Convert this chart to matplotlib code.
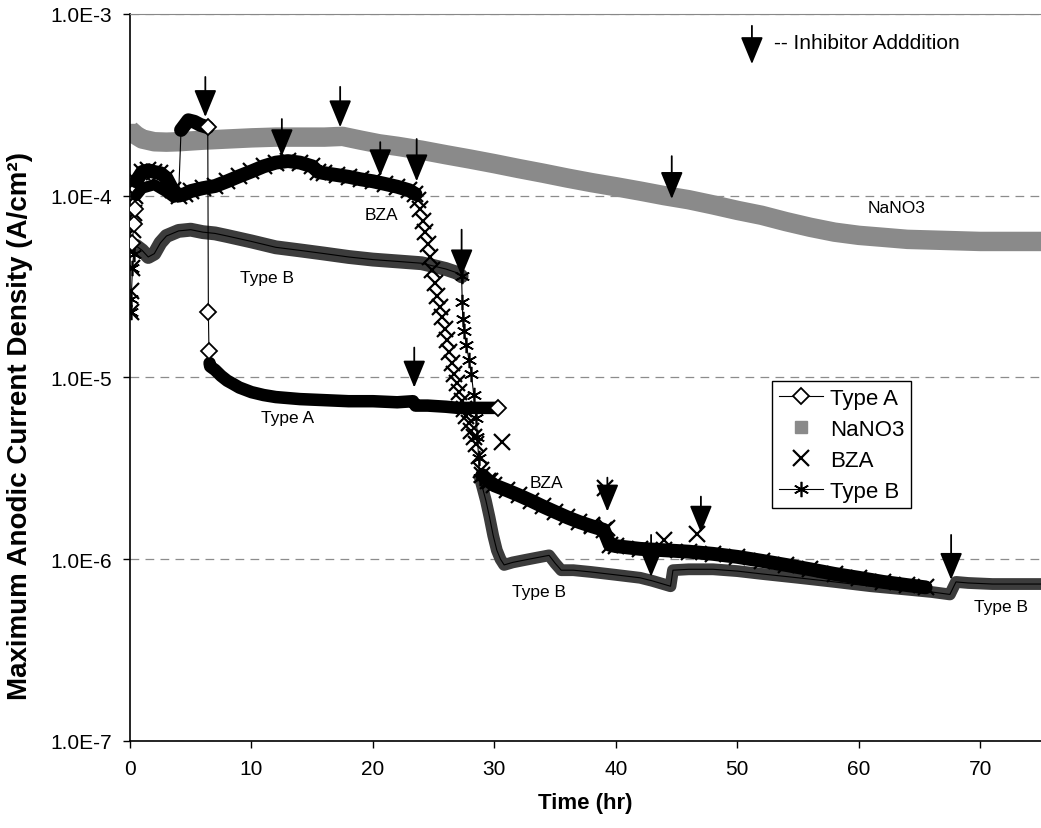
import numpy as np
import matplotlib.pyplot as plt
from matplotlib.ticker import FixedLocator, FuncFormatter, NullLocator

plt.rcParams['font.family'] = ['Liberation Sans', 'DejaVu Sans']

# NaNO3 (grey band, markers only)
nano3_t = [0, 0.5, 1, 2, 3, 4, 5, 6, 8, 10, 12, 14, 16, 17.5, 19, 20.5, 22, 24, 26, 28,
           30, 32, 34, 36, 38, 40, 42, 44, 46, 48, 50, 52, 54, 56, 58, 60, 62, 64, 66,
           68, 70, 72, 75]
nano3_i = [2.3e-4, 2.15e-4, 2.05e-4, 1.98e-4, 1.97e-4, 1.98e-4, 2.0e-4, 2.02e-4, 2.05e-4,
           2.08e-4, 2.1e-4, 2.1e-4, 2.1e-4, 2.12e-4, 2.02e-4, 1.93e-4, 1.87e-4, 1.78e-4,
           1.68e-4, 1.59e-4, 1.5e-4, 1.41e-4, 1.33e-4, 1.25e-4, 1.18e-4, 1.12e-4, 1.06e-4,
           1.0e-4, 9.5e-5, 8.9e-5, 8.3e-5, 7.8e-5, 7.2e-5, 6.7e-5, 6.3e-5, 6.05e-5, 5.9e-5,
           5.75e-5, 5.7e-5, 5.65e-5, 5.6e-5, 5.6e-5, 5.6e-5]

# Type A (diamonds + line)
typea_t = [0.2, 0.3, 0.4, 0.5, 1.0, 2.0, 3.0, 3.6, 4.0, 4.2, 4.8, 5.3, 5.8, 6.4, 6.45,
           6.5, 6.55, 6.6, 7.0, 7.5, 8.0, 8.5, 9.0, 10, 11, 12, 14, 16, 18, 20, 22, 23.3,
           23.5, 24.5, 26, 27, 28, 29, 30.3]
typea_i = [5.5e-5, 7e-5, 8.5e-5, 1.0e-4, 1.1e-4, 1.15e-4, 1.05e-4, 9.8e-5, 1.0e-4, 2.3e-4,
           2.6e-4, 2.55e-4, 2.45e-4, 2.38e-4, 2.3e-5, 1.4e-5, 1.2e-5, 1.15e-5, 1.1e-5,
           1.02e-5, 9.6e-6, 9.2e-6, 8.8e-6, 8.3e-6, 8.0e-6, 7.8e-6, 7.6e-6, 7.5e-6, 7.4e-6,
           7.4e-6, 7.3e-6, 7.4e-6, 7.0e-6, 7.0e-6, 6.9e-6, 6.8e-6, 6.8e-6, 6.8e-6, 6.8e-6]

# BZA (x markers only)
bza_t = [0.05, 0.1, 0.15, 0.2, 0.25, 0.3, 0.4, 0.5, 1.0, 1.5, 2.0, 2.5, 3.0, 3.5, 4.0,
         4.5, 5.0, 6.0, 7.0, 8.0, 9.0, 10.0, 11.0, 12.0, 13.0, 14.0, 15.0, 15.5, 16.0,
         17.0, 18.0, 19.0, 20.0, 21.0, 22.0, 23.0, 23.5,
         23.7, 23.9, 24.1, 24.3, 24.5, 24.7, 24.9, 25.1, 25.3, 25.5, 25.7, 25.9, 26.1,
         26.3, 26.5, 26.7, 26.9, 27.1, 27.3, 27.5, 27.7, 27.9, 28.1, 28.3, 28.5, 28.7,
         28.9, 29.0, 29.5, 30, 31, 32, 33, 34, 35, 36, 37, 38, 39, 39.5, 40, 42, 44, 46,
         48, 50, 52, 54, 56, 58, 60, 62, 64, 65.5]
bza_i = [2.3e-5, 3e-5, 4e-5, 5e-5, 6.5e-5, 8e-5, 1.0e-4, 1.2e-4, 1.35e-4, 1.38e-4, 1.35e-4,
         1.33e-4, 1.25e-4, 1.08e-4, 1.0e-4, 1.02e-4, 1.06e-4, 1.1e-4, 1.13e-4, 1.2e-4,
         1.28e-4, 1.36e-4, 1.45e-4, 1.52e-4, 1.55e-4, 1.52e-4, 1.45e-4, 1.35e-4, 1.33e-4,
         1.3e-4, 1.27e-4, 1.23e-4, 1.2e-4, 1.16e-4, 1.12e-4, 1.07e-4, 1.02e-4,
         9.5e-5, 8.5e-5, 7.3e-5, 6.3e-5, 5.4e-5, 4.6e-5, 3.9e-5, 3.3e-5, 2.8e-5, 2.45e-5,
         2.15e-5, 1.85e-5, 1.6e-5, 1.38e-5, 1.2e-5, 1.05e-5, 9.3e-6, 8.3e-6, 7.4e-6,
         6.7e-6, 6.1e-6, 5.6e-6, 5.1e-6, 4.7e-6, 4.3e-6, 3.7e-6, 3.1e-6,
         2.9e-6, 2.7e-6, 2.55e-6, 2.4e-6, 2.25e-6, 2.1e-6, 1.95e-6, 1.82e-6, 1.7e-6,
         1.6e-6, 1.52e-6, 1.45e-6, 1.2e-6, 1.18e-6, 1.14e-6, 1.12e-6, 1.1e-6, 1.07e-6,
         1.03e-6, 9.8e-7, 9.3e-7, 8.8e-7, 8.3e-7, 7.9e-7, 7.5e-7, 7.2e-7, 7.0e-7]
bza_extra_t = [29.6, 30.6, 38.0, 39.1, 39.3, 44.0, 46.7]
bza_extra_i = [2.7e-6, 4.4e-6, 1.55e-6, 2.45e-6, 1.48e-6, 1.28e-6, 1.37e-6]

# Type B (asterisks + line)
typeb_t = [0.05, 0.1, 0.2, 0.3, 0.5, 1.0, 1.5, 2.0, 2.5, 3.0, 4.0, 5.0, 6.0, 7.0, 8.0, 10,
           12, 14, 16, 18, 20, 22, 24, 25, 26, 27, 27.3,
           27.35, 27.4, 27.5, 27.7, 27.9, 28.1, 28.3, 28.5, 28.6, 28.7, 28.8,
           29.0, 29.3, 29.6, 29.9, 30.2, 30.5, 30.8, 31.5, 32.5, 33.5, 34.5, 35.0, 35.5,
           36.5, 38, 40, 42, 43, 44.5, 44.7, 46, 48, 50, 52, 55, 58, 61, 64, 66, 67.5,
           68, 69, 71, 73, 75]
typeb_i = [2.3e-5, 2.7e-5, 4.0e-5, 4.8e-5, 5.3e-5, 5.0e-5, 4.6e-5, 4.8e-5, 5.5e-5, 6.0e-5,
           6.4e-5, 6.5e-5, 6.3e-5, 6.2e-5, 6.0e-5, 5.6e-5, 5.2e-5, 5.0e-5, 4.8e-5, 4.6e-5,
           4.45e-5, 4.35e-5, 4.25e-5, 4.1e-5, 3.95e-5, 3.75e-5, 3.6e-5,
           2.6e-5, 2.1e-5, 1.8e-5, 1.5e-5, 1.25e-5, 1.05e-5, 8.0e-6, 6.0e-6, 4.7e-6,
           3.6e-6, 2.8e-6,
           2.5e-6, 2.1e-6, 1.7e-6, 1.35e-6, 1.12e-6, 1.0e-6, 9.3e-7, 9.6e-7, 9.9e-7,
           1.02e-6, 1.05e-6, 9.5e-7, 8.7e-7, 8.7e-7, 8.5e-7, 8.2e-7, 7.9e-7, 7.6e-7,
           7.1e-7, 8.7e-7, 8.8e-7, 8.8e-7, 8.6e-7, 8.3e-7, 7.9e-7, 7.5e-7, 7.1e-7, 6.8e-7,
           6.6e-7, 6.4e-7, 7.5e-7, 7.4e-7, 7.3e-7, 7.3e-7, 7.3e-7]

# inhibitor addition arrows: time, tail, tip
arrow_t = [6.2, 12.5, 17.3, 20.6, 23.6, 27.3, 23.4, 44.6, 39.3, 42.9, 47.0, 67.6]
arrow_tail = [4.5e-4, 2.64e-4, 3.97e-4, 1.97e-4, 2.05e-4, 6.5e-5, 1.46e-5, 1.65e-4,
              2.81e-6, 1.36e-6, 2.21e-6, 1.36e-6]
arrow_tip = [2.71e-4, 1.65e-4, 2.38e-4, 1.28e-4, 1.2e-4, 3.6e-5, 8.8e-6, 9.6e-5,
             1.83e-6, 8.0e-7, 1.4e-6, 7.7e-7]

# curve labels in the plot
note_txt = ['BZA', 'Type B', 'Type A', 'NaNO3', 'BZA', 'Type B', 'Type B']
note_t = [20.7, 11.3, 13.0, 63.1, 34.3, 33.7, 71.7]
note_i = [7.9e-5, 3.56e-5, 6.0e-6, 8.65e-5, 2.64e-6, 6.6e-7, 5.5e-7]

fig = plt.figure(figsize=(10.41, 8.29), dpi=100)
ax = fig.add_axes([0.1249, 0.105, 0.8751, 0.877])
ax.set_yscale('log')

grey = '#8a8a8a'
dark = '#3c3c3c'

# NaNO3
ax.plot(nano3_t, nano3_i, color=grey, lw=14, solid_capstyle='butt', zorder=2)
ax.plot(nano3_t, nano3_i, ls='none', marker='s', ms=9, color=grey, mec=grey,
        label='NaNO3', zorder=2)

# Type B
tb_t = np.array(typeb_t)
tb_i = np.array(typeb_i)
ax.plot(tb_t[4:27], tb_i[4:27], color=dark, lw=10, solid_capstyle='round', zorder=3)
ax.plot(tb_t[37:], tb_i[37:], color=dark, lw=8.5, solid_capstyle='round',
        solid_joinstyle='round', zorder=3)
ax.plot(tb_t, tb_i, color='black', lw=0.8, marker=(6, 2, 0), ms=11, mew=1.2,
        markevery=list(range(0, 4)) + list(range(26, 38)), label='Type B', zorder=3.5)

# BZA
bz_t = np.array(bza_t)
bz_i = np.array(bza_i)
ax.plot(bz_t[7:37], bz_i[7:37], color='black', lw=10, solid_capstyle='round',
        solid_joinstyle='round', zorder=4)
ax.plot(bz_t[64:], bz_i[64:], color='black', lw=10, solid_capstyle='round',
        solid_joinstyle='round', zorder=4)
ax.plot(bz_t, bz_i, ls='none', marker='x', ms=11, mew=1.6, color='black',
        label='BZA', zorder=4)
ax.plot(bza_extra_t, bza_extra_i, ls='none', marker='x', ms=11, mew=1.6,
        color='black', zorder=4)

# Type A
ta_t = np.array(typea_t)
ta_i = np.array(typea_i)
ax.plot(ta_t[3:9], ta_i[3:9], color='black', lw=8, solid_capstyle='round', zorder=5)
ax.plot(ta_t[9:14], ta_i[9:14], color='black', lw=10, solid_capstyle='round', zorder=5)
ax.plot(ta_t[16:], ta_i[16:], color='black', lw=9, solid_capstyle='round',
        solid_joinstyle='round', zorder=5)
ax.plot(ta_t, ta_i, color='black', lw=0.8, marker='D', ms=8, mfc='white', mec='black',
        mew=1.3, markevery=[0, 1, 2, 13, 14, 15, len(ta_t) - 1], label='Type A',
        zorder=5.5)

# arrows
for t, a, b in zip(arrow_t, arrow_tail, arrow_tip):
    ax.annotate('', xy=(t, b), xytext=(t, a),
                arrowprops=dict(arrowstyle='-|>,head_length=0.85,head_width=0.35',
                                mutation_scale=20, color='black', lw=1.3,
                                shrinkA=0, shrinkB=0), zorder=7)

# arrow key
ax.annotate('', xy=(51.2, 5.3e-4), xytext=(51.2, 8.6e-4),
            arrowprops=dict(arrowstyle='-|>,head_length=0.85,head_width=0.35',
                            mutation_scale=20, color='black', lw=1.3,
                            shrinkA=0, shrinkB=0), zorder=7)
ax.text(53.0, 7.0e-4, '-- Inhibitor Adddition', fontsize=15, va='center', ha='left')

for s, t, v in zip(note_txt, note_t, note_i):
    ax.text(t, v, s, fontsize=12.5, ha='center', va='center', zorder=8)

ax.set_xlim(0, 75)
ax.set_ylim(1e-7, 1e-3)
ax.xaxis.set_major_locator(FixedLocator([0, 10, 20, 30, 40, 50, 60, 70]))
ax.yaxis.set_major_locator(FixedLocator([1e-7, 1e-6, 1e-5, 1e-4, 1e-3]))
ax.yaxis.set_minor_locator(NullLocator())
ax.yaxis.set_major_formatter(FuncFormatter(lambda v, p: f'{v:.1E}'.replace('E-0', 'E-')))
ax.tick_params(axis='both', direction='out', length=5, width=1, labelsize=15, pad=8)

ax.grid(axis='y', which='major', linestyle=(0, (7, 5)), color='#8c8c8c', lw=0.9)
ax.set_axisbelow(True)
ax.spines['right'].set_visible(False)
ax.spines['top'].set_color('#888888')
ax.spines['left'].set_linewidth(1.2)
ax.spines['bottom'].set_linewidth(1.2)

ax.set_xlabel('Time (hr)', fontsize=16, fontweight='bold', labelpad=10)
ax.set_ylabel('Maximum Anodic Current Density (A/cm²)', fontsize=20, fontweight='bold')
ax.yaxis.set_label_coords(-0.107, 0.435)

handles, labels = ax.get_legend_handles_labels()
order = [labels.index(n) for n in ['Type A', 'NaNO3', 'BZA', 'Type B']]
leg = ax.legend([handles[k] for k in order], [labels[k] for k in order],
                loc='upper left', bbox_to_anchor=(0.705, 0.495), fontsize=16,
                frameon=True, fancybox=False, edgecolor='black', framealpha=1,
                handlelength=2.0, handletextpad=0.3, labelspacing=0.45,
                borderpad=0.3, borderaxespad=0)
leg.get_frame().set_linewidth(1.0)

fig.savefig('out.png', dpi=100)
